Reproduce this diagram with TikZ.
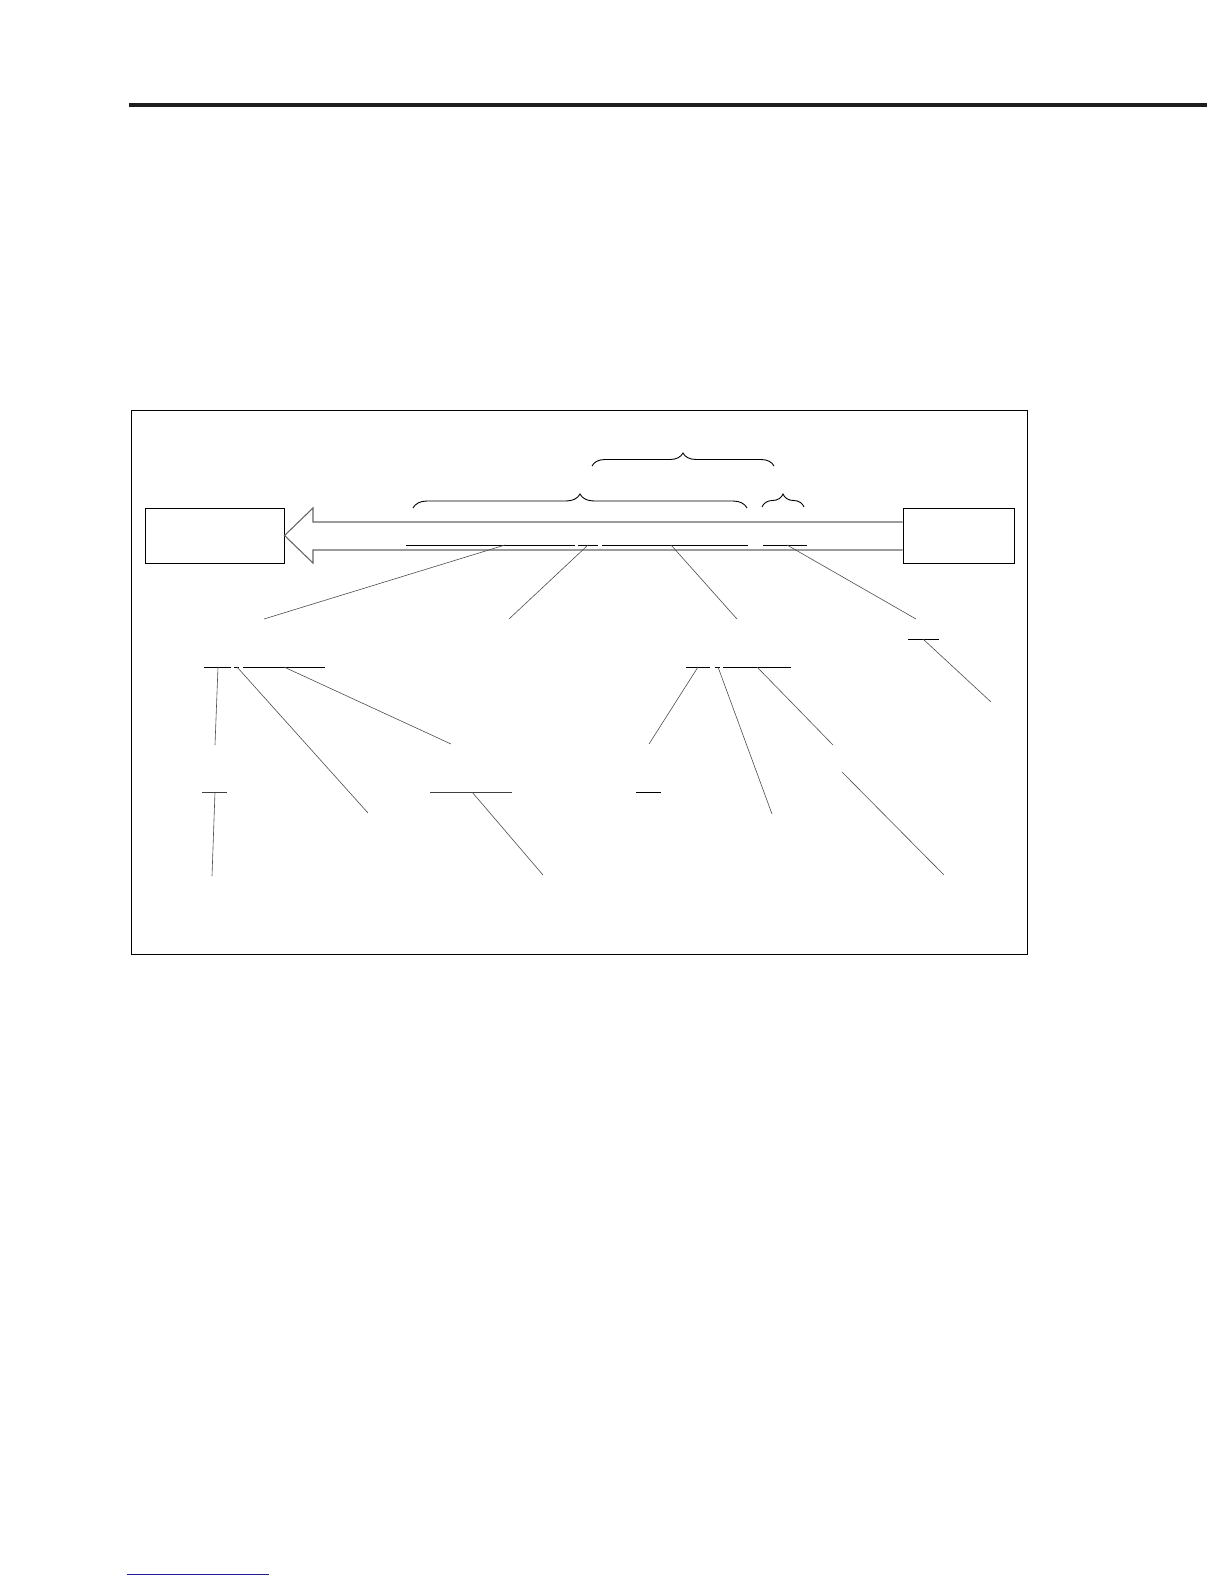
\documentclass[tikz,border=0pt]{standalone}
\usetikzlibrary{decorations.pathreplacing}
\definecolor{rulegray}{RGB}{30,30,30}
\definecolor{linkblue}{RGB}{30,30,150}
\begin{document}
\begin{tikzpicture}[x=1pt,y=-1pt,
  framebox/.style={draw=black,line width=1pt},
  blockbox/.style={draw=black,line width=1pt,inner sep=0pt,minimum height=55pt},
  arrowline/.style={draw=black!60,line width=1.1pt,line join=miter},
  seg/.style={draw=black,line width=1pt},
  segthin/.style={draw=black!75,line width=0.8pt},
  leader/.style={draw=black!70,line width=0.6pt},
  bracestyle/.style={draw=black,line width=0.9pt,decorate,decoration={brace,amplitude=#1}}
]
\useasboundingbox (0,0) rectangle (1224,1584);
% page rules
\draw[rulegray,line width=4pt] (129,105) coordinate (r1) -- (1207,105) coordinate (r2);
\draw[linkblue,line width=1pt] (127,1574) coordinate (b1) -- (269,1574) coordinate (b2);
% frame
\draw[framebox] (131,410) rectangle (1027,954);
% boxes
\node[blockbox,minimum width=139pt] (lbox) at (214.5,535.5) {};
\node[blockbox,minimum width=111pt] (rbox) at (958.5,535.5) {};
% big arrow
\draw[arrowline] (rbox.west |- 0,522) -- (313,522) -- (313,508) -- (lbox.east) -- (313,563) -- (313,550) -- (rbox.west |- 0,550);
% braces
\draw[bracestyle=13pt] (592,466) coordinate (ba1) -- (774,466) coordinate (ba2);
\draw[bracestyle=14pt] (413,508) coordinate (bb1) -- (747,508) coordinate (bb2);
\draw[bracestyle=13pt] (762,507) coordinate (bc1) -- (804,507) coordinate (bc2);
% segments in the arrow
\draw[seg] (406,545) -- (575,545);
\draw[seg] (578,545) -- (598,545);
\draw[seg] (602,545) -- (748,545);
\draw[seg] (763,545) -- (807,545);
% leaders from the arrow
\coordinate (s1) at (505,545); \coordinate (e1) at (264,619);
\coordinate (s2) at (588,545); \coordinate (e2) at (509,619);
\coordinate (s3) at (671,545); \coordinate (e3) at (737,619);
\coordinate (s4) at (787,545); \coordinate (e4) at (916,619);
\draw[leader] (s1) -- (e1);
\draw[leader] (s2) -- (e2);
\draw[leader] (s3) -- (e3);
\draw[leader] (s4) -- (e4);
% right top short segment
\draw[seg] (908,639) -- (939,639);
\coordinate (s5) at (923,639); \coordinate (e5) at (991,702);
\draw[leader] (s5) -- (e5);
% left row
\draw[seg] (204,667) -- (231,667);
\draw[seg] (234,667) -- (239,667);
\draw[seg] (243,667) -- (325,667);
\coordinate (s6) at (218,667); \coordinate (e6) at (215,745);
\coordinate (s7) at (237,667); \coordinate (e7) at (368,813);
\coordinate (s8) at (284,667); \coordinate (e8) at (451,744);
\draw[leader] (s6) -- (e6);
\draw[leader] (s7) -- (e7);
\draw[leader] (s8) -- (e8);
\draw[segthin] (202,792) -- (227,792);
\coordinate (s9) at (215,792); \coordinate (e9) at (212,876);
\draw[leader] (s9) -- (e9);
\draw[segthin] (430,792) -- (512,792);
\coordinate (s10) at (472,792); \coordinate (e10) at (543,875);
\draw[leader] (s10) -- (e10);
% right row
\draw[seg] (686,667) -- (710,667);
\draw[seg] (715,667) -- (720,667);
\draw[seg] (723,667) -- (791,667);
\coordinate (s11) at (698,667); \coordinate (e11) at (649,744);
\coordinate (s12) at (718,667); \coordinate (e12) at (772,814);
\coordinate (s13) at (757,667); \coordinate (e13) at (833,745);
\draw[leader] (s11) -- (e11);
\draw[leader] (s12) -- (e12);
\draw[leader] (s13) -- (e13);
\coordinate (s14) at (842,772); \coordinate (e14) at (944,875);
\draw[leader] (s14) -- (e14);
\draw[seg] (636,792) -- (661,792);
\end{tikzpicture}
\end{document}
